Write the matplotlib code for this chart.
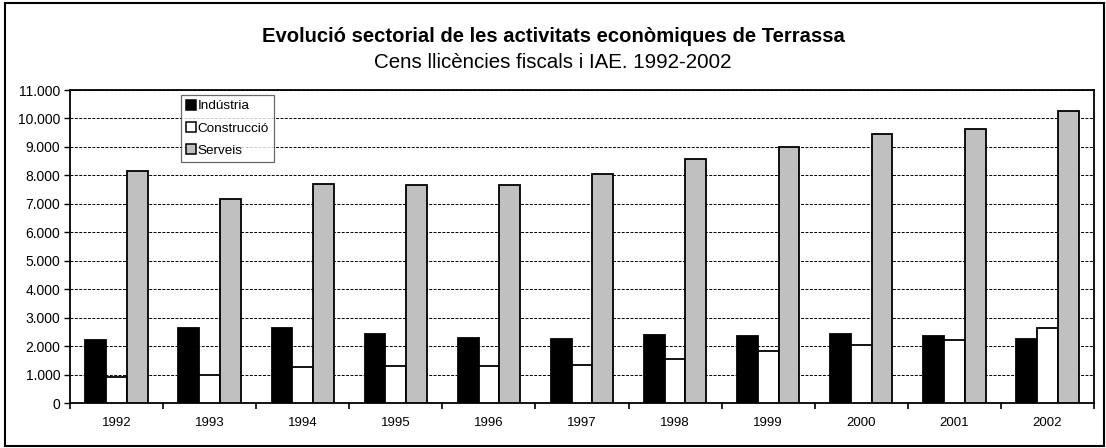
import numpy as np
import matplotlib
matplotlib.use('agg')
import matplotlib.pyplot as plt
from matplotlib.patches import Rectangle
from matplotlib.ticker import FuncFormatter

plt.rcParams['font.family'] = ['Liberation Sans', 'DejaVu Sans']

years = ['1992', '1993', '1994', '1995', '1996', '1997', '1998', '1999', '2000', '2001', '2002']
industria = [2230, 2620, 2620, 2420, 2300, 2255, 2395, 2350, 2430, 2350, 2265]
construccio = [910, 990, 1260, 1310, 1285, 1320, 1530, 1835, 2045, 2230, 2630]
serveis = [8165, 7165, 7683, 7660, 7660, 8047, 8586, 9012, 9470, 9623, 10247]
series_names = ['Indústria', 'Construcció', 'Serveis']
series_colors = ['black', 'white', '#c0c0c0']

fig = plt.figure(figsize=(11.06, 4.48), dpi=100)
ax = fig.add_axes([70 / 1106, 1 - 403 / 448, (1094 - 70) / 1106, (403 - 90) / 448])

x = np.arange(len(years))
w = 0.223
for i, (vals, name, col) in enumerate(zip([industria, construccio, serveis], series_names, series_colors)):
    ax.bar(x + (i - 1) * w, vals, width=w, color=col, edgecolor='black',
           linewidth=1.3, label=name, zorder=3)

ax.set_xlim(-0.5, len(years) - 0.5)
ax.set_ylim(0, 11000)
ax.set_yticks(np.arange(0, 11001, 1000))
ax.yaxis.set_major_formatter(FuncFormatter(lambda v, p: f'{int(v):,}'.replace(',', '.')))
ax.set_xticks(x)
ax.set_xticklabels(years)
ax.set_xticks(np.arange(-0.5, len(years), 1), minor=True)
ax.tick_params(axis='x', which='major', length=0, pad=10, labelsize=9.5)
ax.tick_params(axis='x', which='minor', length=4, width=1.2, direction='out')
ax.tick_params(axis='y', length=4, width=1.0, direction='out', labelsize=10, pad=3)
ax.grid(axis='y', color='black', linestyle=(0, (3, 1.5)), linewidth=0.7, zorder=0)
for s in ax.spines.values():
    s.set_linewidth(1.3)

leg = ax.legend(loc='upper left', bbox_to_anchor=(181 / 1106, 1 - 95 / 448),
                bbox_transform=fig.transFigure, fontsize=9.7, frameon=True,
                fancybox=False, edgecolor='#444444', handlelength=0.75,
                handleheight=0.75, handletextpad=0.15, borderpad=0.35,
                labelspacing=0.72, borderaxespad=0)
leg.get_frame().set_linewidth(0.9)
for h in leg.legend_handles:
    h.set_linewidth(1.1)

fig.text(0.5, 1 - 37 / 448, 'Evolució sectorial de les activitats econòmiques de Terrassa',
         ha='center', va='center', fontsize=14.6, fontweight='bold')
fig.text(0.5, 1 - 62 / 448, 'Cens llicències fiscals i IAE. 1992-2002',
         ha='center', va='center', fontsize=14.8)

fig.patches.append(Rectangle((5 / 1106, 2 / 448), 1099 / 1106, 443 / 448,
                             transform=fig.transFigure, fill=False,
                             edgecolor='black', linewidth=1.5))

fig.savefig('out.png', dpi=100)
